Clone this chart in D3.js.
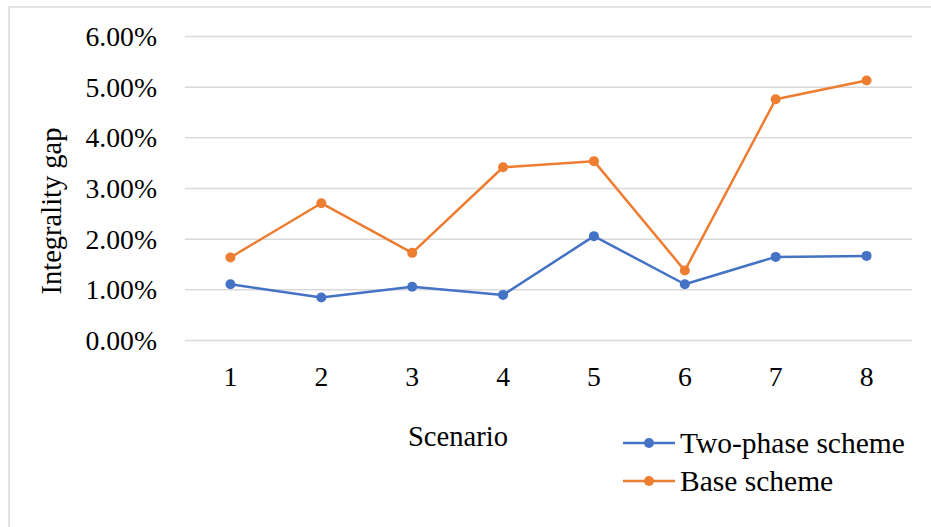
<!DOCTYPE html>
<html>
<head>
<meta charset="utf-8">
<script src="https://cdn.jsdelivr.net/npm/d3@7"></script>
<style>
  html, body { margin: 0; padding: 0; background: #fff; }
  svg { display: block; }
</style>
</head>
<body>
<svg id="chart" width="931" height="527"></svg>
<script>
const scenarios = ["1", "2", "3", "4", "5", "6", "7", "8"];
const twoPhase = [0.0110, 0.0084, 0.0105, 0.0089, 0.0205, 0.0110, 0.0164, 0.0166];
const baseScheme = [0.0163, 0.0270, 0.0172, 0.0341, 0.0353, 0.0137, 0.0475, 0.0512];
const yTicks = [0, 0.01, 0.02, 0.03, 0.04, 0.05, 0.06];
const seriesNames = ["Two-phase scheme", "Base scheme"];
const seriesColors = ["#4472C4", "#ED7D31"];

const FONT = "Times New Roman, serif";
const svg = d3.select("#chart");

// chart border
svg.append("rect")
  .attr("x", 9).attr("y", 7).attr("width", 940).attr("height", 540)
  .attr("fill", "none").attr("stroke", "#D9D9D9").attr("stroke-width", 1.5);

const plotLeft = 185, plotRight = 912, plotTop = 36, plotBottom = 340;

const x = d3.scaleBand().domain(scenarios).range([plotLeft, plotRight]);
const y = d3.scaleLinear().domain([0, 0.06]).range([plotBottom, plotTop]);

// gridlines + y tick labels
const yAxis = d3.axisLeft(y).tickValues(yTicks)
  .tickSize(-(plotRight - plotLeft))
  .tickFormat(d => (d * 100).toFixed(2) + "%")
  .tickPadding(28);
const gy = svg.append("g").attr("transform", `translate(${plotLeft},0)`).call(yAxis);
gy.attr("font-family", FONT).attr("font-size", null);
gy.select(".domain").remove();
gy.selectAll(".tick line").attr("stroke", "#D9D9D9").attr("stroke-width", 1.5);
gy.selectAll(".tick text")
  .style("font-family", FONT)
  .style("font-size", "27.7px").attr("fill", "#000").attr("dy", "0.34em");

// x axis labels
const xAxis = d3.axisBottom(x).tickSize(0).tickPadding(26);
const gx = svg.append("g").attr("transform", `translate(0,${plotBottom})`).call(xAxis);
gx.attr("font-family", FONT).attr("font-size", null);
gx.select(".domain").remove();
gx.selectAll(".tick text")
  .style("font-family", FONT)
  .style("font-size", "27.7px").attr("fill", "#000");

// axis titles
svg.append("text")
  .attr("x", 458).attr("y", 446)
  .attr("text-anchor", "middle")
  .style("font-family", FONT)
  .style("font-size", "28.6px")
  .attr("fill", "#000")
  .text("Scenario");

svg.append("text")
  .attr("transform", "translate(61,211) rotate(-90)")
  .attr("text-anchor", "middle")
  .style("font-family", FONT)
  .style("font-size", "28.5px")
  .attr("fill", "#000")
  .text("Integrality gap");

// lines
const series = [twoPhase, baseScheme];
const line = d3.line()
  .x((d, i) => x(scenarios[i]) + x.bandwidth() / 2)
  .y(d => y(d));

series.forEach((vals, si) => {
  svg.append("path")
    .datum(vals)
    .attr("fill", "none")
    .attr("stroke", seriesColors[si])
    .attr("stroke-width", 2.5)
    .attr("stroke-linejoin", "round")
    .attr("d", line);
  svg.selectAll(".pt" + si)
    .data(vals)
    .enter().append("circle")
    .attr("cx", (d, i) => x(scenarios[i]) + x.bandwidth() / 2)
    .attr("cy", d => y(d))
    .attr("r", 5)
    .attr("fill", seriesColors[si]);
});

// legend
const legendRows = [443, 481];
seriesNames.forEach((name, i) => {
  const g = svg.append("g").attr("transform", `translate(0,${legendRows[i]})`);
  g.append("line").attr("x1", 623).attr("x2", 675).attr("y1", 0).attr("y2", 0)
    .attr("stroke", seriesColors[i]).attr("stroke-width", 2.5);
  g.append("circle").attr("cx", 649).attr("cy", 0).attr("r", 5).attr("fill", seriesColors[i]);
  g.append("text").attr("x", 680).attr("y", 0).attr("dy", "0.34em")
    .style("font-family", FONT)
    .style("font-size", "29.5px")
    .attr("fill", "#000")
    .text(name);
});
</script>
</body>
</html>
